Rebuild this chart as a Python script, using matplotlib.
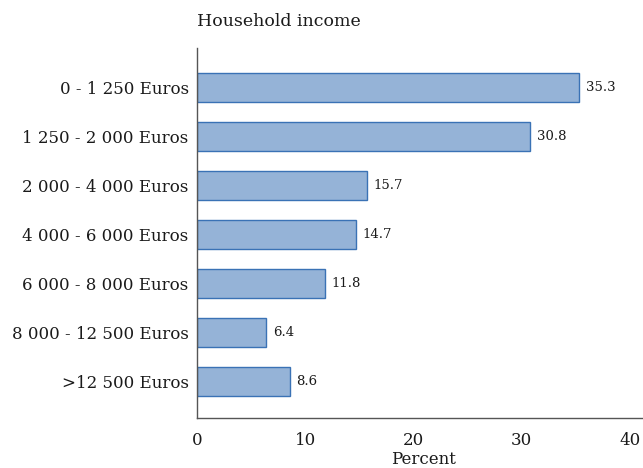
import matplotlib
matplotlib.use("Agg")
import matplotlib.pyplot as plt

categories = ["0 - 1 250 Euros", "1 250 - 2 000 Euros", "2 000 - 4 000 Euros",
              "4 000 - 6 000 Euros", "6 000 - 8 000 Euros", "8 000 - 12 500 Euros",
              ">12 500 Euros"]
values = [35.3, 30.8, 15.7, 14.7, 11.8, 6.4, 8.6]
xticks = [0, 10, 20, 30, 40]

plt.rcParams['font.family'] = ['DejaVu Serif']
tc = '#1a1a1a'

fig = plt.figure(figsize=(6.43, 4.68), dpi=100)
ax = fig.add_axes([197/643, 1-418/468, (649-197)/643, (418-48)/468])

ypos = list(range(len(categories)))
ax.barh(ypos, values, height=0.6, color='#95b3d7', edgecolor='#3a72b5', linewidth=1.0)
for y, v in zip(ypos, values):
    ax.text(v + 0.6, y, f"{v}", va='center', ha='left', fontsize=9.5, color=tc)

ax.set_ylim(6.75, -0.8)
ax.set_xlim(0, 41.75)
ax.set_yticks(ypos)
ax.set_yticklabels(categories, fontsize=12, color=tc)
ax.set_xticks(xticks)
ax.set_xticklabels([str(t) for t in xticks], fontsize=12, color=tc)
ax.tick_params(axis='both', length=0)
ax.tick_params(axis='y', pad=6)
ax.tick_params(axis='x', pad=10)
ax.set_xlabel("Percent", fontsize=12, color=tc)
ax.xaxis.set_label_coords(0.5, -0.088)
for s in ['top', 'right']:
    ax.spines[s].set_visible(False)
for s in ['left', 'bottom']:
    ax.spines[s].set_color('#555555')
    ax.spines[s].set_linewidth(1.0)
fig.text(197/643, 1-22/468, "Household income", fontsize=12.5, color=tc, va='center', ha='left')

fig.savefig("out.png", dpi=100)
